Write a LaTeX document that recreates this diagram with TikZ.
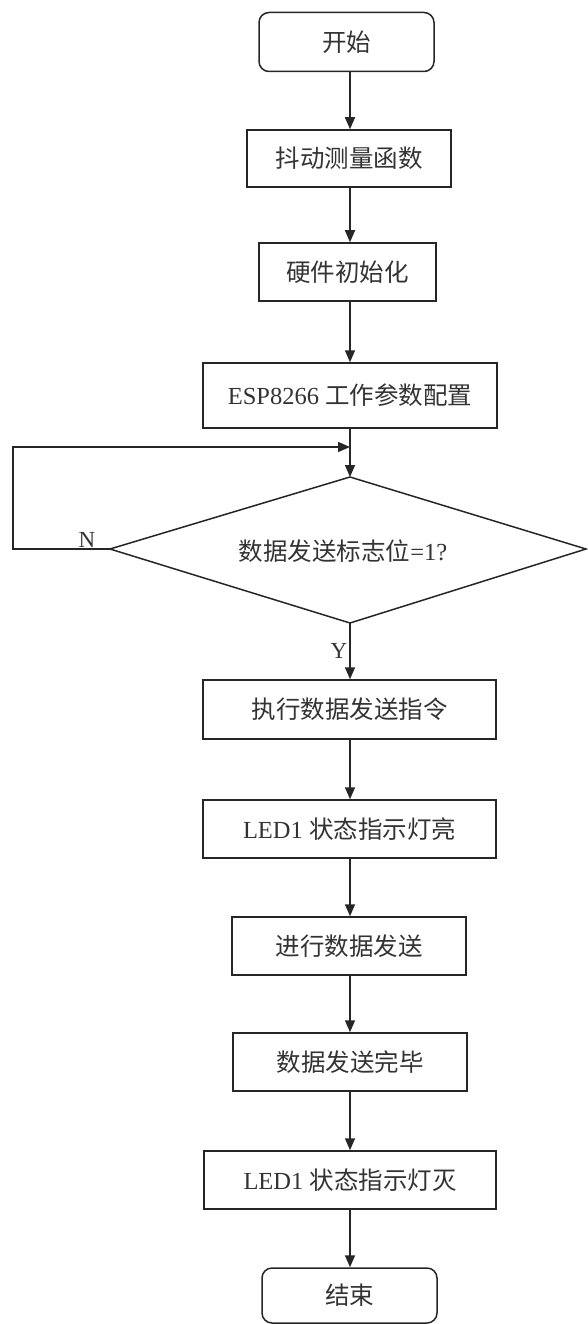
\documentclass[tikz,border=0pt]{standalone}
\usepackage{fontspec}
\setmainfont{Liberation Serif}
\newfontfamily\cjk{Noto Sans CJK SC}
\usetikzlibrary{arrows.meta}

\newcommand{\zh}[1]{{\cjk #1}}

\definecolor{ink}{HTML}{262626}
\definecolor{txt}{HTML}{333333}

\tikzset{
  base/.style={draw=ink, line width=1.5pt, inner sep=0pt, text=txt,
    font=\fontsize{24.5}{28}\selectfont},
  procbox/.style={base, rectangle},
  termbox/.style={base, rectangle, rounded corners=10pt},
  dectext/.style={inner sep=0pt, text=txt, font=\fontsize{24.5}{28}\selectfont},
  arr/.style={draw=ink, line width=1.6pt, -{Triangle[length=12pt,width=10pt]}},
  outline/.style={draw=ink, line width=1.5pt, line join=miter},
  lbl/.style={text=txt, font=\fontsize{23}{26}\selectfont, inner sep=0pt}
}

\begin{document}
\begin{tikzpicture}[x=1pt,y=-1pt]
  \useasboundingbox (0,0) rectangle (587,1324);

  % main column
  \node[termbox, minimum width=175pt, minimum height=59pt] (start) at (346.5,42) {\zh{开始}};
  \node[procbox, minimum width=204pt, minimum height=57pt] (jitter) at (349,158.5) {\zh{抖动测量函数}};
  \node[procbox, minimum width=177pt, minimum height=58pt] (hwinit) at (347.5,272) {\zh{硬件初始化}};
  \node[procbox, minimum width=294pt, minimum height=65pt] (espcfg) at (350,395.5) {ESP8266 \zh{工作参数配置}};

  % decision: diamond outline with its text
  \coordinate (dtop) at (350,477);
  \coordinate (dleft) at (110,549);
  \coordinate (dright) at (586,549);
  \coordinate (dbot) at (350,623);
  \draw[outline] (dtop) -- (dright) -- (dbot) -- (dleft) -- cycle;
  \node[dectext] (flag) at (343,551) {\zh{数据发送标志位}=1?};

  \node[procbox, minimum width=293pt, minimum height=59pt] (sendcmd) at (349.5,709.5) {\zh{执行数据发送指令}};
  \node[procbox, minimum width=293pt, minimum height=58pt] (ledon) at (349.5,829) {LED1 \zh{状态指示灯亮}};
  \node[procbox, minimum width=234pt, minimum height=58pt] (sending) at (349,946) {\zh{进行数据发送}};
  \node[procbox, minimum width=234pt, minimum height=58pt] (sent) at (350,1062) {\zh{数据发送完毕}};
  \node[procbox, minimum width=292pt, minimum height=58pt] (ledoff) at (350,1180) {LED1 \zh{状态指示灯灭}};
  \node[termbox, minimum width=175pt, minimum height=55pt] (stop) at (349.5,1295.5) {\zh{结束}};

  % junction where the wait loop rejoins the main column
  \coordinate (join) at (350,447);
  \coordinate (loopcorner) at (13,549);

  % connectors, all on the common vertical through the junction
  \draw[arr] (start.south -| join) -- (jitter.north -| join);
  \draw[arr] (jitter.south -| join) -- (hwinit.north -| join);
  \draw[arr] (hwinit.south -| join) -- (espcfg.north -| join);
  \draw[arr] (espcfg.south -| join) -- (dtop);
  \draw[arr] (dleft) -- (loopcorner) |- (join);
  \draw[arr] (dbot) -- (sendcmd.north -| join);
  \draw[arr] (sendcmd.south -| join) -- (ledon.north -| join);
  \draw[arr] (ledon.south -| join) -- (sending.north -| join);
  \draw[arr] (sending.south -| join) -- (sent.north -| join);
  \draw[arr] (sent.south -| join) -- (ledoff.north -| join);
  \draw[arr] (ledoff.south -| join) -- (stop.north -| join);

  % branch labels
  \node[lbl] (nlab) at (87,540) {N};
  \node[lbl] (ylab) at (339,651) {Y};
\end{tikzpicture}
\end{document}
